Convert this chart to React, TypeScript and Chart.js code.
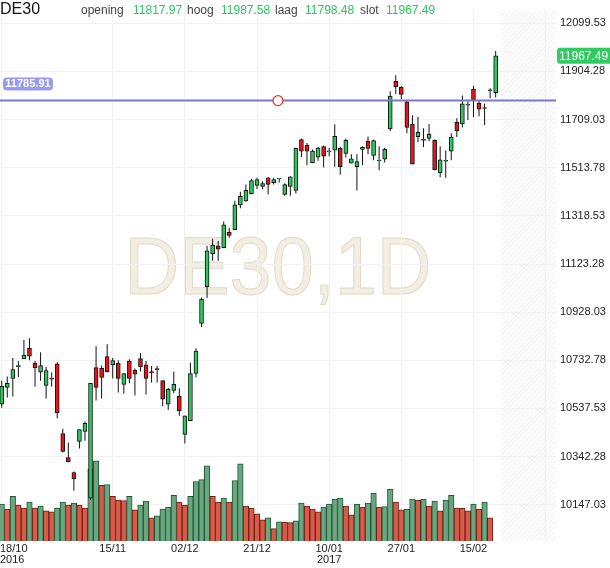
import { useEffect, useRef } from "react"
import { Chart, registerables } from "chart.js"

Chart.register(...registerables)

const symbol = "DE30"
const period = "1D"

// daily candles, 18/10/2016 .. 21/02/2017
const opens = [
  10555, 10623, 10659, 10707, 10738, 10782, 10722, 10685, 10631, 10658,
  10718, 10436, 10338, 10277, 10404, 10444, 10174, 10703, 10700, 10748,
  10715, 10722, 10635, 10730, 10692, 10740, 10714, 10684, 10696, 10651,
  10555, 10611, 10587, 10432, 10488, 10680, 10882, 11031, 11164, 11197,
  11190, 11253, 11263, 11363, 11379, 11409, 11442, 11438, 11473, 11453,
  11468, 11406, 11438, 11422, 11628, 11605, 11534, 11557, 11600, 11578,
  11585, 11592, 11572, 11532, 11518, 11588, 11621, 11564, 11541, 11548,
  11671, 11864, 11840, 11781, 11690, 11640, 11625, 11633, 11625, 11493,
  11540, 11581, 11698, 11691, 11767, 11833, 11776, 11754, 11826, 11817.97,
]
const highs = [
  10651, 10667, 10742, 10730, 10815, 10822, 10730, 10765, 10707, 10684,
  10725, 10455, 10399, 10282, 10452, 10485, 10640, 10790, 10712, 10798,
  10742, 10733, 10680, 10737, 10700, 10762, 10730, 10710, 10710, 10651,
  10620, 10687, 10619, 10508, 10724, 10782, 10987, 11197, 11226, 11217,
  11296, 11270, 11380, 11416, 11446, 11469, 11473, 11459, 11475, 11473,
  11469, 11451, 11479, 11595, 11632, 11614, 11588, 11599, 11604, 11595,
  11690, 11599, 11632, 11568, 11568, 11600, 11640, 11628, 11601, 11595,
  11824, 11889, 11844, 11789, 11727, 11720, 11674, 11691, 11628, 11601,
  11584, 11654, 11714, 11807, 11783, 11846, 11787, 11773, 11836, 11987.58,
]
const lows = [
  10540, 10582, 10586, 10665, 10738, 10733, 10626, 10650, 10578, 10626,
  10498, 10359, 10319, 10204, 10375, 10407, 10167, 10570, 10578, 10683,
  10659, 10602, 10597, 10640, 10590, 10687, 10594, 10643, 10643, 10547,
  10532, 10599, 10508, 10395, 10488, 10663, 10868, 10985, 11137, 11137,
  11190, 11230, 11263, 11349, 11376, 11406, 11428, 11425, 11405, 11446,
  11454, 11400, 11400, 11409, 11557, 11524, 11532, 11542, 11515, 11560,
  11518, 11485, 11555, 11532, 11421, 11524, 11568, 11544, 11504, 11535,
  11662, 11813, 11793, 11654, 11528, 11617, 11598, 11621, 11504, 11475,
  11473, 11544, 11638, 11677, 11707, 11718, 11723, 11687, 11796, 11798.48,
]
const closes = [
  10627, 10639, 10695, 10708, 10754, 10750, 10703, 10711, 10691, 10656,
  10520, 10363, 10321, 10252, 10452, 10477, 10639, 10623, 10663, 10687,
  10732, 10659, 10679, 10659, 10677, 10706, 10659, 10683, 10695, 10575,
  10615, 10635, 10529, 10508, 10679, 10770, 10981, 11177, 11200, 11184,
  11282, 11239, 11363, 11398, 11422, 11462, 11466, 11449, 11446, 11466,
  11468, 11445, 11477, 11592, 11581, 11581, 11581, 11593, 11561, 11579,
  11641, 11518, 11625, 11550, 11539, 11597, 11592, 11624, 11542, 11588,
  11804, 11842, 11811, 11677, 11528, 11657, 11626, 11649, 11506, 11546,
  11541, 11638, 11663, 11773, 11768, 11789, 11751, 11755, 11827, 11967.49,
]
const volumes = [
  113, 98, 137, 110, 101, 119, 101, 107, 92, 89,
  101, 119, 110, 116, 110, 101, 221, 245, 170, 173,
  137, 125, 124, 137, 95, 110, 122, 71, 77, 98,
  104, 140, 119, 110, 137, 182, 188, 230, 137, 119,
  131, 119, 185, 236, 107, 101, 83, 65, 71, 38,
  59, 58, 56, 62, 116, 107, 98, 89, 104, 113,
  128, 131, 107, 80, 113, 104, 116, 146, 104, 105,
  158, 119, 95, 98, 128, 125, 128, 107, 122, 92,
  125, 140, 101, 100, 92, 113, 98, 119, 71,
]

const dateTicks = [0, 20, 33, 46, 59, 72, 85]
const dateLabels = [["18/10", "2016"], ["15/11"], ["02/12"], ["21/12"], ["10/01", "2017"], ["27/01"], ["15/02"]]
const priceTicks = [10147.03, 10342.28, 10537.53, 10732.78, 10928.03, 11123.28, 11318.53, 11513.78, 11709.03, 11904.28, 12099.53]
const lineLevel = 11785.91

const last = closes.length - 1
const FONT = "'Liberation Sans', Arial, sans-serif"
const UP = "#2cc85f"
const DOWN = "#e8141c"

function roundRect(ctx: CanvasRenderingContext2D, x: number, y: number, w: number, h: number, r: number) {
  ctx.beginPath()
  ctx.moveTo(x + r, y)
  ctx.lineTo(x + w - r, y)
  ctx.quadraticCurveTo(x + w, y, x + w, y + r)
  ctx.lineTo(x + w, y + h - r)
  ctx.quadraticCurveTo(x + w, y + h, x + w - r, y + h)
  ctx.lineTo(x + r, y + h)
  ctx.quadraticCurveTo(x, y + h, x, y + h - r)
  ctx.lineTo(x, y + r)
  ctx.quadraticCurveTo(x, y, x + r, y)
  ctx.closePath()
}

const overlay = {
  id: "overlay",
  beforeDraw(chart: any) {
    const { ctx, chartArea: a } = chart
    ctx.save()
    ctx.font = `81px ${FONT}`
    ctx.textAlign = "center"
    ctx.textBaseline = "alphabetic"
    ctx.fillStyle = "#f2eee4"
    ctx.strokeStyle = "#e2dac6"
    ctx.lineWidth = 1
    const cx = (a.left + a.right) / 2
    ctx.fillText(`${symbol},${period}`, cx, 294, 307)
    ctx.strokeText(`${symbol},${period}`, cx, 294, 307)
    ctx.restore()
  },
  beforeDatasetsDraw(chart: any) {
    const { ctx, chartArea: a, scales } = chart
    const x0 = scales.x.getPixelForValue(closes.length)
    const h = a.bottom - a.top
    ctx.save()
    ctx.beginPath()
    ctx.rect(x0, a.top, a.right - x0, h)
    ctx.clip()
    ctx.strokeStyle = "#ebebeb"
    ctx.lineWidth = 1
    ctx.beginPath()
    for (let k = -h; k < a.right - x0 + 5; k += 5) {
      ctx.moveTo(x0 + k, a.bottom)
      ctx.lineTo(x0 + k + h, a.top)
    }
    ctx.stroke()
    ctx.restore()
  },
  afterDatasetsDraw(chart: any) {
    const { ctx, chartArea: a, scales } = chart
    const y = scales.y.getPixelForValue(lineLevel)
    ctx.save()
    ctx.strokeStyle = "#7a7ac4"
    ctx.lineWidth = 2
    ctx.beginPath()
    ctx.moveTo(a.left, y)
    ctx.lineTo(a.right, y)
    ctx.stroke()

    const cx = (a.left + a.right) / 2
    ctx.beginPath()
    ctx.arc(cx, y, 5, 0, Math.PI * 2)
    ctx.fillStyle = "#ffffff"
    ctx.fill()
    ctx.strokeStyle = "#ee3030"
    ctx.lineWidth = 1.3
    ctx.stroke()

    ctx.fillStyle = "#9a9af2"
    roundRect(ctx, 3, y - 23, 50, 13, 4)
    ctx.fill()
    ctx.fillStyle = "#ffffff"
    ctx.font = `bold 11px ${FONT}`
    ctx.textAlign = "center"
    ctx.textBaseline = "middle"
    ctx.fillText(lineLevel.toFixed(2), 28, y - 16.5)
    ctx.restore()
  },
  afterDraw(chart: any) {
    const { ctx, chartArea: a, scales } = chart
    ctx.save()
    const yc = scales.y.getPixelForValue(closes[last])
    ctx.fillStyle = "#30cc62"
    roundRect(ctx, a.right + 1, yc - 8, 70, 16, 3)
    ctx.fill()
    ctx.fillStyle = "#ffffff"
    ctx.font = `12px ${FONT}`
    ctx.textAlign = "left"
    ctx.textBaseline = "middle"
    ctx.fillText(closes[last].toFixed(2), a.right + 3, yc + 0.5)

    ctx.fillStyle = "#222222"
    ctx.font = `11px ${FONT}`
    ctx.textBaseline = "middle"
    dateTicks.forEach((v, i) => {
      const px = scales.x.getPixelForValue(v)
      dateLabels[i].forEach((line, j) => {
        const w = ctx.measureText(line).width
        const left = Math.max(0, px - w / 2)
        ctx.textAlign = "left"
        ctx.fillText(line, left, a.bottom + 8 + j * 11)
      })
    })
    ctx.restore()
  },
}

export default function App() {
  const chartRef = useRef<HTMLCanvasElement>(null)
  const chartInstance = useRef<Chart | null>(null)

  useEffect(() => {
    if (!chartRef.current) return
    if (chartInstance.current) chartInstance.current.destroy()

    const bodyColors = closes.map((c, i) => (c >= opens[i] ? UP : DOWN))
    const volUp = volumes.map((v, i) => i === 0 || v > volumes[i - 1])

    chartInstance.current = new Chart(chartRef.current, {
      type: "bar",
      data: {
        datasets: [
          {
            label: "body",
            data: opens.map((o, i) => ({ x: i, y: [o, closes[i]] })) as any,
            backgroundColor: bodyColors,
            borderColor: "#111111",
            borderWidth: 1,
            borderSkipped: false,
            barThickness: 4,
            minBarLength: 1,
            grouped: false,
            order: 0,
            yAxisID: "y",
          },
          {
            label: "wick",
            data: lows.map((l, i) => ({ x: i, y: [l, highs[i]] })) as any,
            backgroundColor: "#111111",
            borderWidth: 0,
            barThickness: 1,
            inflateAmount: 0,
            grouped: false,
            order: 1,
            yAxisID: "y",
          },
          {
            label: "volume",
            data: volumes.map((v, i) => ({ x: i, y: v })) as any,
            backgroundColor: volUp.map((u) => (u ? "#6aa67f" : "#d85a48")),
            borderColor: volUp.map((u) => (u ? "#1f5834" : "#6e1f18")),
            borderWidth: 1,
            barPercentage: 1,
            categoryPercentage: 1,
            grouped: false,
            order: 2,
            yAxisID: "vol",
          },
        ],
      },
      options: {
        animation: false,
        responsive: true,
        maintainAspectRatio: false,
        events: [],
        layout: { padding: 0, autoPadding: false },
        plugins: { legend: { display: false }, tooltip: { enabled: false } },
        scales: {
          x: {
            type: "linear",
            offset: false,
            min: -0.31,
            max: 99.87,
            afterBuildTicks: (s: any) => {
              s.ticks = [...dateTicks, 98].map((value) => ({ value }))
            },
            afterFit: (s: any) => {
              s.height = 27
            },
            ticks: { display: false },
            grid: { color: "#f1f1f1", drawTicks: false, offset: false },
            border: { display: false },
          },
          y: {
            position: "right",
            min: 10000,
            max: 12151,
            afterBuildTicks: (s: any) => {
              s.ticks = priceTicks.map((value) => ({ value }))
            },
            afterFit: (s: any) => {
              s.width = 54
            },
            ticks: {
              padding: 4,
              color: "#222222",
              font: { family: FONT, size: 11 },
              callback: (v: any) => Number(v).toFixed(2),
            },
            grid: { color: "#f1f1f1", drawTicks: false },
            border: { display: false },
          },
          vol: {
            display: false,
            min: 0,
            max: 1623,
          },
        },
      },
      plugins: [overlay],
    })

    return () => {
      if (chartInstance.current) {
        chartInstance.current.destroy()
        chartInstance.current = null
      }
    }
  }, [])

  const head = { position: "absolute" as const, top: 3, font: `12px ${FONT}`, lineHeight: "14px" }
  const label = { ...head, color: "#444444" }
  const value = { ...head, color: UP }

  return (
    <div style={{ position: "fixed", left: 0, top: 0, width: 610, height: 568, background: "#ffffff" }}>
      <canvas ref={chartRef} />
      <div style={{ position: "absolute", left: 0, top: 0, font: `16px ${FONT}`, lineHeight: "18px", color: "#111111" }}>
        {symbol}
      </div>
      <span style={{ ...label, left: 81 }}>opening</span>
      <span style={{ ...value, left: 133 }}>{opens[last].toFixed(2)}</span>
      <span style={{ ...label, left: 187 }}>hoog</span>
      <span style={{ ...value, left: 221 }}>{highs[last].toFixed(2)}</span>
      <span style={{ ...label, left: 275 }}>laag</span>
      <span style={{ ...value, left: 305 }}>{lows[last].toFixed(2)}</span>
      <span style={{ ...label, left: 360 }}>slot</span>
      <span style={{ ...value, left: 386 }}>{closes[last].toFixed(2)}</span>
    </div>
  )
}
